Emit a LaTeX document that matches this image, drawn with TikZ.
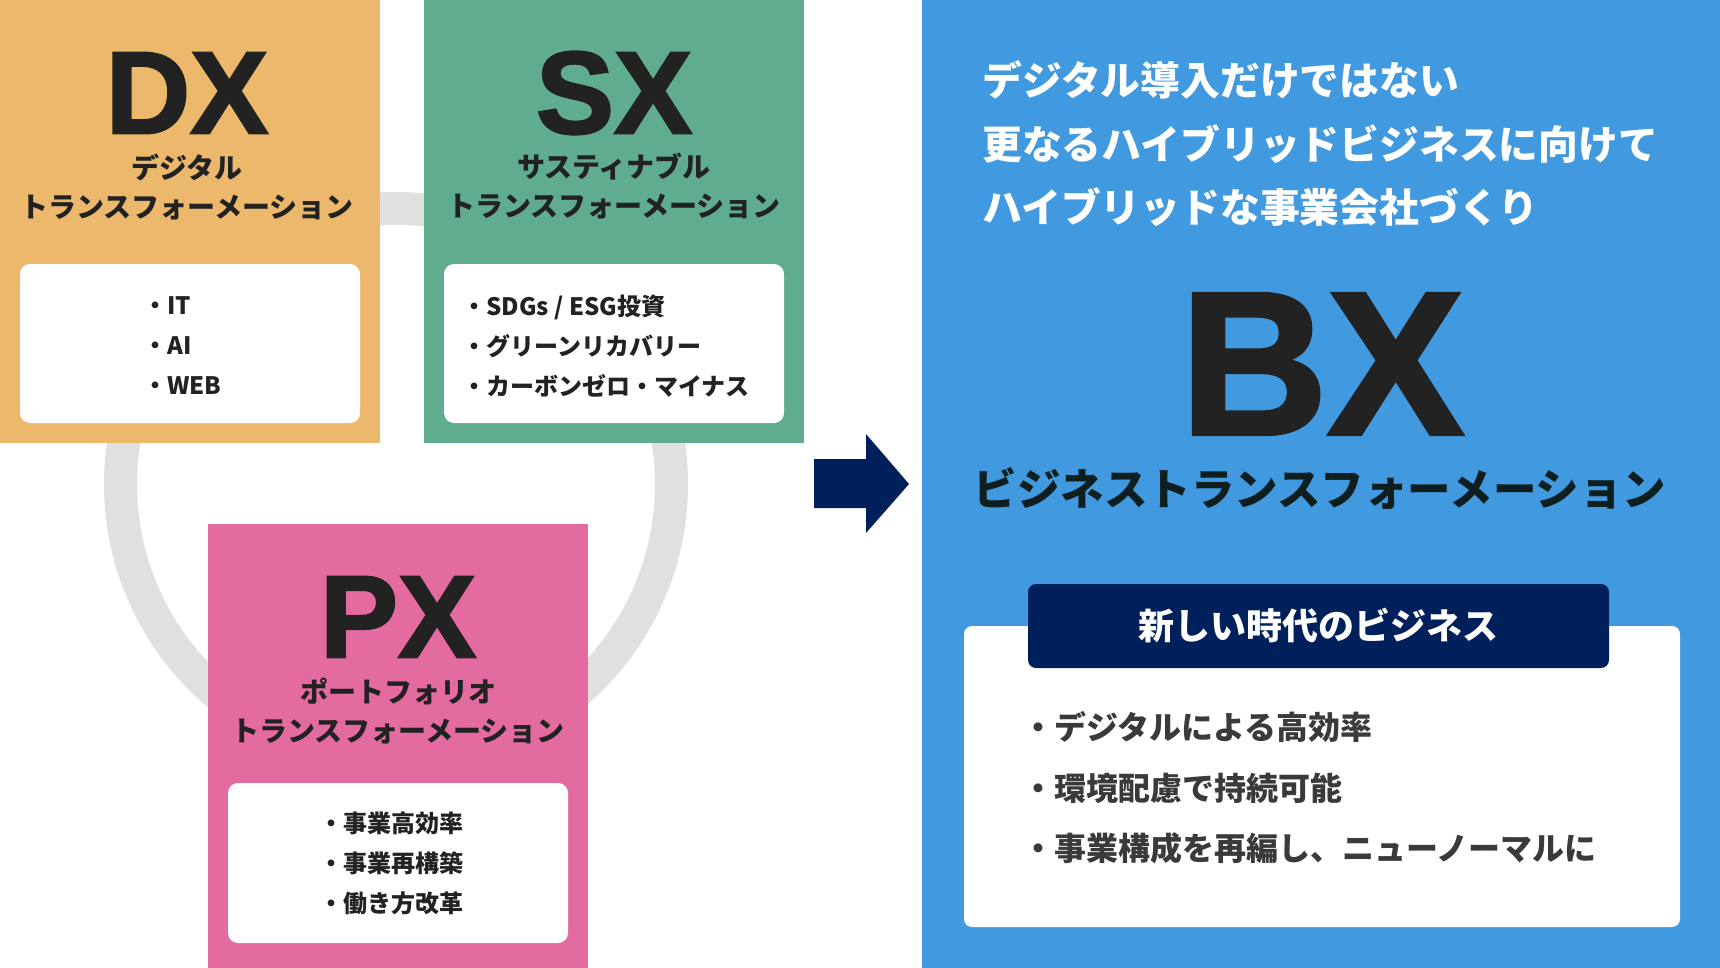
\documentclass[tikz,border=0pt]{standalone}
\usepackage{fontspec}
\setmainfont{Noto Sans CJK JP}
\newfontfamily\jp{Noto Sans CJK JP}
\newfontfamily\bigfont{Liberation Sans}[BoldFeatures={FakeBold=2}]
\definecolor{dxc}{HTML}{ECB86B}
\definecolor{sxc}{HTML}{60AC8E}
\definecolor{pxc}{HTML}{E46BA0}
\definecolor{bxc}{HTML}{4199DF}
\definecolor{navy}{HTML}{00205B}
\definecolor{ringc}{HTML}{E0E0E0}
\definecolor{ink}{HTML}{222222}
\definecolor{bxink}{HTML}{0F1E1E}
\definecolor{listink}{HTML}{3A3A3A}
\begin{document}
\begin{tikzpicture}[x=1pt,y=-1pt,
  panel/.style={inner sep=0pt, outer sep=0pt, anchor=north west},
  card/.style={fill=white, rounded corners=10pt, inner sep=0pt, outer sep=0pt, anchor=north west},
  big/.style={font=\bigfont\bfseries\fontsize{117}{117}\selectfont, text=ink, inner sep=0pt},
  sub/.style={font=\jp\bfseries\fontsize{28}{39}\selectfont, text=ink, align=center, inner sep=0pt},
  list/.style={font=\jp\bfseries\fontsize{24}{40}\selectfont, text=ink, align=left, anchor=west, inner sep=0pt}]
\useasboundingbox (0,0) rectangle (1720,968);
\fill[white] (0,0) rectangle (1720,968);
% ring
\node[circle, draw=ringc, line width=33pt, minimum size=551pt, inner sep=0pt] (ring) at (396,484) {};
% DX
\node[panel, fill=dxc, minimum width=380pt, minimum height=443pt] (dx) at (0,0) {};
\node[big] (dxt) at (187,93) {DX};
\node[sub] (dxs) at (187,186.5) {デジタル\\トランスフォーメーション};
\node[card, minimum width=340pt, minimum height=159pt] (dxc) at (20,264) {};
\node[list] (dxl) at (143,346) {・IT\\・AI\\・WEB};
% SX
\node[panel, fill=sxc, minimum width=380pt, minimum height=443pt] (sx) at (424,0) {};
\node[big] (sxt) at (614,93) {SX};
\node[sub] (sxs) at (614,186.5) {サスティナブル\\トランスフォーメーション};
\node[card, minimum width=340pt, minimum height=159pt] (sxc) at (444,264) {};
\node[list] (sxl) at (462,346) {・SDGs / ESG投資\\・グリーンリカバリー\\・カーボンゼロ・マイナス};
% PX
\node[panel, fill=pxc, minimum width=380pt, minimum height=444pt] (px) at (208,524) {};
\node[big] (pxt) at (398,617) {PX};
\node[sub] (pxs) at (398,711) {ポートフォリオ\\トランスフォーメーション};
\node[card, minimum width=340pt, minimum height=160pt] (pxc) at (228,783) {};
\node[list] (pxl) at (319,863) {・事業高効率\\・事業再構築\\・働き方改革};
% arrow
\fill[navy] (814,459) -- (866,459) -- (866,434) -- (909,484) -- (866,533) -- (866,508) -- (814,508) -- cycle;
% BX panel
\node[panel, fill=bxc, minimum width=798pt, minimum height=968pt] (bx) at (922,0) {};
\node[font=\jp\bfseries\fontsize{39.8}{63.5}\selectfont, text=white, align=left, anchor=west, inner sep=0pt] (bxh) at (982,144)
  {デジタル導入だけではない\\更なるハイブリッドビジネスに向けて\\ハイブリッドな事業会社づくり};
\node[font=\bigfont\bfseries\fontsize{204}{204}\selectfont, text=ink, inner sep=0pt] (bxt) at (1322,364) {BX};
\node[font=\jp\bfseries\fontsize{43.5}{50}\selectfont, text=bxink, inner sep=0pt] (bxs) at (1320,488) {ビジネストランスフォーメーション};
\node[card, rounded corners=8pt, minimum width=716pt, minimum height=301pt] (bxc) at (964,626) {};
\node[panel, fill=navy, rounded corners=8pt, minimum width=581pt, minimum height=84pt] (bxn) at (1028,584) {};
\node[font=\jp\bfseries\fontsize{36}{40}\selectfont, text=white, inner sep=0pt] (bxnt) at (bxn.center) {新しい時代のビジネス};
\node[font=\jp\bfseries\fontsize{32}{60.5}\selectfont, text=listink, align=left, anchor=west, inner sep=0pt] (bxl) at (1022,788)
  {・デジタルによる高効率\\・環境配慮で持続可能\\・事業構成を再編し、ニューノーマルに};
\end{tikzpicture}
\end{document}
